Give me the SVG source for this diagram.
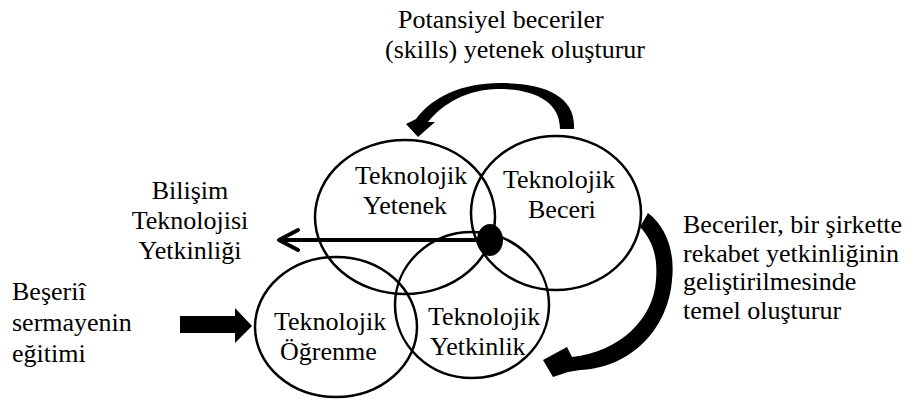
<svg xmlns="http://www.w3.org/2000/svg" width="914" height="407" viewBox="0 0 914 407">
  <rect width="914" height="407" fill="#fff"/>

  <g id="node-yetenek">
    <ellipse cx="405" cy="217" rx="90" ry="77" fill="none" stroke="#000" stroke-width="2.5"/>
    <text x="355" y="184" font-family="Liberation Serif" font-size="26" style="font-family:'Liberation Serif' !important">Teknolojik</text>
    <text x="363" y="214" font-family="Liberation Serif" font-size="26" style="font-family:'Liberation Serif' !important">Yetenek</text>
  </g>
  <g id="node-beceri">
    <ellipse cx="556" cy="213" rx="85" ry="77" fill="none" stroke="#000" stroke-width="2.5"/>
    <text x="503" y="188" font-family="Liberation Serif" font-size="26" style="font-family:'Liberation Serif' !important">Teknolojik</text>
    <text x="528" y="218" font-family="Liberation Serif" font-size="26" style="font-family:'Liberation Serif' !important">Beceri</text>
  </g>
  <g id="node-yetkinlik">
    <ellipse cx="472" cy="305" rx="77" ry="73" fill="none" stroke="#000" stroke-width="2.5"/>
    <text x="428" y="325" font-family="Liberation Serif" font-size="26" style="font-family:'Liberation Serif' !important">Teknolojik</text>
    <text x="430" y="355" font-family="Liberation Serif" font-size="26" style="font-family:'Liberation Serif' !important">Yetkinlik</text>
  </g>
  <g id="node-ogrenme">
    <ellipse cx="336" cy="327" rx="81" ry="70" fill="none" stroke="#000" stroke-width="2.5"/>
    <text x="274" y="330" font-family="Liberation Serif" font-size="26" style="font-family:'Liberation Serif' !important">Teknolojik</text>
    <text x="280" y="360" font-family="Liberation Serif" font-size="26" style="font-family:'Liberation Serif' !important">Öğrenme</text>
  </g>

  <g id="label-top">
    <text x="398" y="28" font-family="Liberation Serif" font-size="26" style="font-family:'Liberation Serif' !important">Potansiyel beceriler</text>
    <text x="385" y="58" font-family="Liberation Serif" font-size="26" style="font-family:'Liberation Serif' !important">(skills) yetenek oluşturur</text>
  </g>
  <g id="label-bilisim">
    <text x="190" y="199" text-anchor="middle" font-family="Liberation Serif" font-size="26" style="font-family:'Liberation Serif' !important">Bilişim</text>
    <text x="190" y="229" text-anchor="middle" font-family="Liberation Serif" font-size="26" style="font-family:'Liberation Serif' !important">Teknolojisi</text>
    <text x="190" y="259" text-anchor="middle" font-family="Liberation Serif" font-size="26" style="font-family:'Liberation Serif' !important">Yetkinliği</text>
  </g>
  <g id="label-beseri">
    <text x="12" y="300" font-family="Liberation Serif" font-size="26" style="font-family:'Liberation Serif' !important">Beşeriî</text>
    <text x="12" y="331" font-family="Liberation Serif" font-size="26" style="font-family:'Liberation Serif' !important">sermayenin</text>
    <text x="12" y="362" font-family="Liberation Serif" font-size="26" style="font-family:'Liberation Serif' !important">eğitimi</text>
  </g>
  <g id="label-right">
    <text x="683" y="233" font-family="Liberation Serif" font-size="26" style="font-family:'Liberation Serif' !important">Beceriler, bir şirkette</text>
    <text x="683" y="262" font-family="Liberation Serif" font-size="26" style="font-family:'Liberation Serif' !important">rekabet yetkinliğinin</text>
    <text x="683" y="290" font-family="Liberation Serif" font-size="26" style="font-family:'Liberation Serif' !important">geliştirilmesinde</text>
    <text x="683" y="319" font-family="Liberation Serif" font-size="26" style="font-family:'Liberation Serif' !important">temel oluşturur</text>
  </g>

  <g id="connectors" fill="#000">
    <!-- centre dot and arrow to the IT competence label -->
    <ellipse cx="490" cy="240" rx="13" ry="16"/>
    <line x1="490" y1="240" x2="280" y2="240" stroke="#000" stroke-width="4"/>
    <polyline points="298,230 279,240 298,250" fill="none" stroke="#000" stroke-width="4" stroke-linecap="round" stroke-linejoin="round"/>
    <!-- block arrow into learning -->
    <polygon points="180,316 235,316 235,308 252,326 235,343 235,333 180,333"/>
    <!-- curved arrow: skill to ability -->
    <path d="M574,129 C576,96 545,83 500,83 C462,83 432,97 416,119 L406,124 L418,137 L435,122 L428,122 C442,104 468,89 498,89 C535,89 560,102 560,129 Z"/>
    <!-- curved arrow: skill to competence -->
    <path d="M648,213 C668,228 675,255 672,280 C668,330 630,368 580,370 L568,372 L553,377 L543,360 L567,347 L572,357 C620,352 654,318 656,280 C658,255 652,240 640,227 Z"/>
  </g>
</svg>
